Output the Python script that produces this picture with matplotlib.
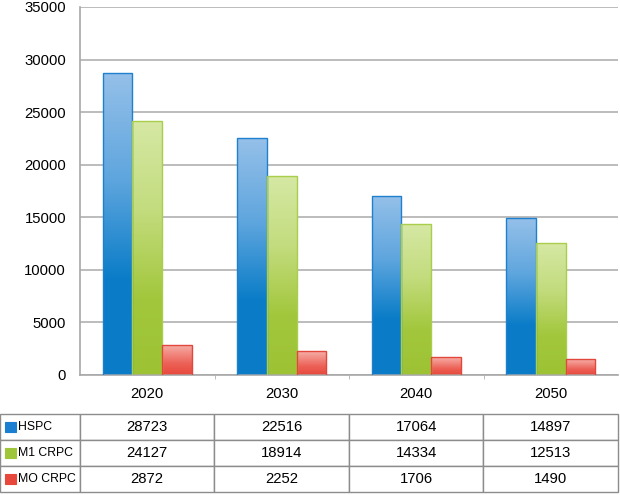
import matplotlib
matplotlib.use("Agg")
import matplotlib.pyplot as plt
import numpy as np
from matplotlib.colors import LinearSegmentedColormap
from matplotlib.patches import Rectangle

plt.rcParams["font.family"] = ["Liberation Sans", "DejaVu Sans"]

years = ["2020", "2030", "2040", "2050"]
series = ["HSPC", "M1 CRPC", "MO CRPC"]
hspc = [28723, 22516, 17064, 14897]
m1_crpc = [24127, 18914, 14334, 12513]
mo_crpc = [2872, 2252, 1706, 1490]
values = [hspc, m1_crpc, mo_crpc]
yticks = [0, 5000, 10000, 15000, 20000, 25000, 30000, 35000]

grads = [
    [(0.0, "#0a7bc6"), (0.32, "#0b7dc8"), (0.65, "#5fa6de"), (1.0, "#95c0e9")],
    [(0.0, "#9dc334"), (0.30, "#a2c73c"), (0.65, "#c3dc7e"), (1.0, "#d6e8a4")],
    [(0.0, "#e8483c"), (0.35, "#ec5f55"), (1.0, "#f6b0a9")],
]
edges = ["#1f80cf", "#a8ce4c", "#e2473c"]
swatch = ["#1a7fd0", "#9fc63a", "#e8473c"]

fig = plt.figure(figsize=(6.2, 4.95), dpi=100)
ax = fig.add_axes([80/620, 1-375/495, 538/620, 368/495])

x = np.arange(len(years))
w = 0.22
grad = np.linspace(0, 1, 256).reshape(-1, 1)
for i, (vals, g, ec) in enumerate(zip(values, grads, edges)):
    cmap = LinearSegmentedColormap.from_list(f"g{i}", g)
    bars = ax.bar(x + (i - 1) * w, vals, w, facecolor="none", edgecolor=ec, linewidth=1.0, zorder=3)
    for b in bars:
        x0, y0 = b.get_x(), b.get_y()
        im = ax.imshow(grad, cmap=cmap, origin="lower", aspect="auto",
                       extent=[x0, x0 + b.get_width(), y0, y0 + b.get_height()], zorder=2)
        im.set_clip_path(b)

ax.set_xlim(-0.5, 3.5)
ax.set_ylim(0, 35000)
ax.set_yticks(yticks)
ax.set_yticklabels([str(t) for t in yticks], fontsize=10.7)
ax.yaxis.grid(True, color="#b0b0b0", linewidth=1.2, zorder=0)
ax.set_axisbelow(True)
ax.tick_params(axis="y", length=0, pad=10)
ax.set_xticks(x)
ax.set_xticklabels(years, fontsize=10.7)
ax.tick_params(axis="x", length=0, pad=8.5)
ax.set_xticks([0.5, 1.5, 2.5], minor=True)
ax.tick_params(axis="x", which="minor", length=3, color="#b0b0b0")
for s in ["top", "right"]:
    ax.spines[s].set_visible(False)
ax.spines["left"].set_color("#a8a8a8")
ax.spines["bottom"].set_color("#a8a8a8")
ax.spines["left"].set_linewidth(1.2)
ax.spines["bottom"].set_linewidth(1.2)

# table
cell_text = [[name] + [str(v) for v in vals] for name, vals in zip(series, values)]
tx0 = (0 - 80) / 538
ty1 = (375 - 414) / 368
ty0 = (375 - 492) / 368
tbl = ax.table(cellText=cell_text, colWidths=[80, 135, 135, 135, 135],
               bbox=[tx0, ty0, 1 - tx0, ty1 - ty0], cellLoc="center")
tbl.auto_set_font_size(False)
for (r, c), cell in tbl.get_celld().items():
    cell.set_edgecolor("#8c8c8c")
    cell.set_linewidth(1.0)
    if c == 0:
        cell.get_text().set_fontsize(8.8)
        cell._loc = "left"
        cell.get_text().set_ha("left")
        cell.PAD = 0.23
    else:
        cell.get_text().set_fontsize(10.7)

for i, col in enumerate(swatch):
    yc = 1 - (427 + i * 26) / 495
    fig.patches.append(Rectangle((5/620, yc - 5/495), 11/620, 10/495,
                                 transform=fig.transFigure, facecolor=col,
                                 edgecolor=col, linewidth=0.8))

fig.savefig("out.png", dpi=100)
